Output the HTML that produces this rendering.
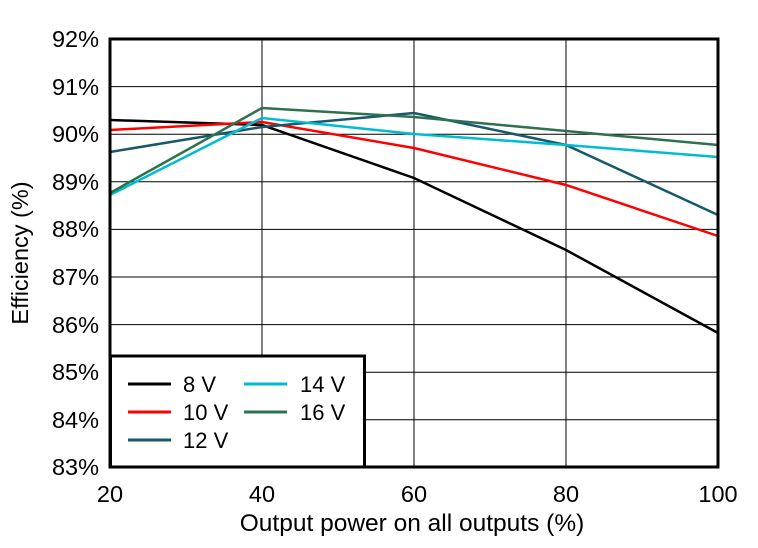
<!DOCTYPE html>
<html><head><meta charset="utf-8"><style>
html,body{margin:0;padding:0;background:#fff;}
svg{display:block;font-family:"Liberation Sans",Arial,sans-serif;}
</style></head><body>
<svg width="758" height="548" viewBox="0 0 758 548">
<g stroke="#000" stroke-width="1">
<line x1="262" y1="39" x2="262" y2="467"/><line x1="414" y1="39" x2="414" y2="467"/><line x1="566" y1="39" x2="566" y2="467"/>
<line x1="110" y1="86.6" x2="718" y2="86.6"/><line x1="110" y1="134.2" x2="718" y2="134.2"/><line x1="110" y1="181.8" x2="718" y2="181.8"/>
<line x1="110" y1="229.4" x2="718" y2="229.4"/><line x1="110" y1="277" x2="718" y2="277"/><line x1="110" y1="324.6" x2="718" y2="324.6"/>
<line x1="110" y1="372.2" x2="718" y2="372.2"/><line x1="110" y1="419.8" x2="718" y2="419.8"/>
</g>
<g fill="none" stroke-width="2.5">
<polyline stroke="#000" points="110,120 262,125 414,178 566,250 718,333"/>
<polyline stroke="#ff0000" points="110,130 262,122 414,148 566,185 718,236"/>
<polyline stroke="#17596a" points="110,152 262,127 414,113 566,145 718,215"/>
<polyline stroke="#00bcd0" points="110,195 262,118 414,134 566,145 718,157"/>
<polyline stroke="#2e7050" points="110,193 262,108 414,117 566,131 718,145"/>
</g>
<rect x="110" y="39" width="608" height="428" fill="none" stroke="#000" stroke-width="3"/>
<rect x="110.5" y="356" width="254" height="111" fill="#fff" stroke="#000" stroke-width="3"/>
<g stroke-width="3">
<line x1="128" y1="384" x2="171" y2="384" stroke="#000"/>
<line x1="128" y1="412" x2="171" y2="412" stroke="#ff0000"/>
<line x1="128" y1="440" x2="171" y2="440" stroke="#17596a"/>
<line x1="244" y1="384" x2="287" y2="384" stroke="#00bcd0"/>
<line x1="244" y1="412" x2="287" y2="412" stroke="#2e7050"/>
</g>
<g font-size="22" fill="#000">
<text x="183" y="392">8 V</text><text x="183" y="420">10 V</text><text x="183" y="448">12 V</text>
<text x="300" y="392">14 V</text><text x="300" y="420">16 V</text>
</g>
<g font-size="23.5" text-anchor="end">
<text x="99" y="47">92%</text><text x="99" y="95">91%</text><text x="99" y="142">90%</text>
<text x="99" y="190">89%</text><text x="99" y="237">88%</text><text x="99" y="285">87%</text>
<text x="99" y="333">86%</text><text x="99" y="380">85%</text><text x="99" y="428">84%</text>
<text x="99" y="475">83%</text>
</g>
<g font-size="23.5" text-anchor="middle">
<text x="110" y="502">20</text><text x="262" y="502">40</text><text x="414" y="502">60</text>
<text x="566" y="502">80</text><text x="718" y="502">100</text>
<text x="412" y="531" font-size="24.5">Output power on all outputs (%)</text>
<text transform="translate(28,253) rotate(-90)">Efficiency (%)</text>
</g>
</svg>
</body></html>
